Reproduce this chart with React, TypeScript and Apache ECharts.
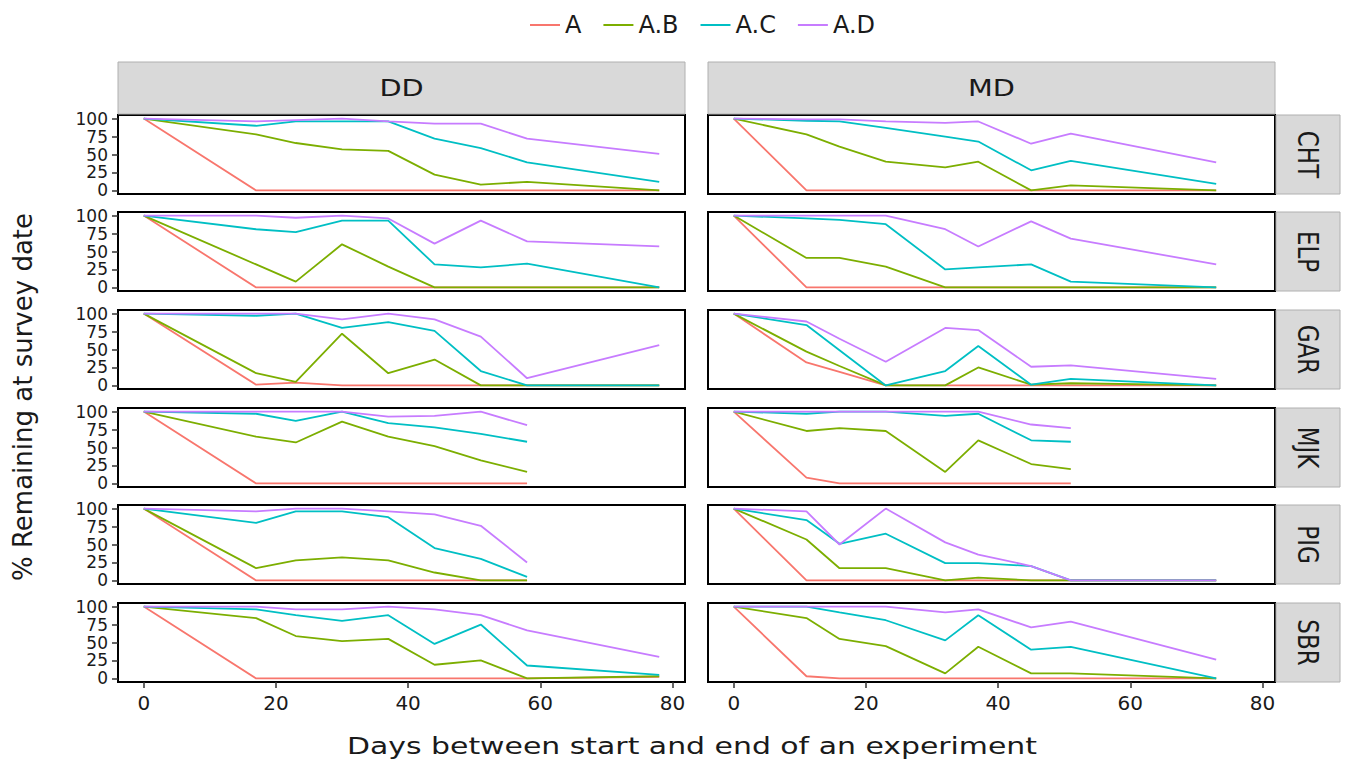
import React, { useEffect, useRef } from "react";
import * as echarts from "echarts";

const SERIES_NAMES = ["A", "A.B", "A.C", "A.D"];
const COLORS = ["#F8766D", "#7CAE00", "#00BFC4", "#C77CFF"];
const SITES = ["CHT", "ELP", "GAR", "MJK", "PIG", "SBR"];
const TREATMENTS = ["DD", "MD"];
const X_TICKS = [0, 20, 40, 60, 80];
const Y_TICKS = [0, 25, 50, 75, 100];

const DD_DAYS = [0, 17, 23, 30, 37, 44, 51, 58, 78];
const MD_DAYS = [0, 11, 16, 23, 32, 37, 45, 51, 73];

// each panel: [A, A.B, A.C, A.D]
const CHT_DD = [
  [100, 0, 0, 0, 0, 0, 0, 0, 0],
  [100, 78, 66, 57, 55, 22, 8, 12, 0],
  [100, 90, 96, 96, 96, 72, 59, 39, 12],
  [100, 96, 98, 100, 96, 93, 93, 72, 51],
];
const CHT_MD = [
  [100, 0, 0, 0, 0, 0, 0, 0, 0],
  [100, 78, 61, 40, 32, 40, 0, 7, 0],
  [100, 97, 96, 87, 75, 68, 28, 41, 9],
  [100, 99, 99, 96, 94, 96, 65, 79, 39],
];
const ELP_DD = [
  [100, 0, 0, 0, 0, 0, 0, 0, 0],
  [100, 32, 8, 60, 29, 0, 0, 0, 0],
  [100, 81, 77, 93, 93, 32, 28, 33, 0],
  [100, 100, 97, 100, 96, 61, 93, 64, 57],
];
const ELP_MD = [
  [100, 0, 0, 0, 0, 0, 0, 0, 0],
  [100, 41, 41, 29, 0, 0, 0, 0, 0],
  [100, 96, 94, 88, 25, 28, 32, 8, 0],
  [100, 100, 100, 100, 81, 57, 92, 68, 32],
];
const GAR_DD = [
  [100, 1, 4, 0, 0, 0, 0, 0, 0],
  [100, 17, 5, 72, 17, 36, 0, 0, 0],
  [100, 97, 100, 80, 88, 76, 20, 0, 0],
  [100, 100, 100, 92, 100, 92, 68, 10, 56],
];
const GAR_MD = [
  [100, 32, 19, 0, 0, 0, 0, 0, 0],
  [100, 47, 27, 0, 0, 25, 1, 3, 0],
  [100, 84, 49, 0, 20, 55, 1, 9, 0],
  [100, 89, 65, 33, 80, 77, 26, 28, 9],
];
const MJK_DD = [
  [100, 0, 0, 0, 0, 0, 0, 0, null],
  [100, 65, 57, 86, 65, 52, 32, 16, null],
  [100, 97, 87, 100, 84, 78, 69, 58, null],
  [100, 100, 100, 100, 93, 94, 100, 81, null],
];
const MJK_MD = [
  [100, 8, 0, 0, 0, 0, 0, 0, null],
  [100, 73, 77, 73, 16, 60, 27, 20, null],
  [100, 97, 100, 100, 94, 97, 60, 58, null],
  [100, 100, 100, 100, 100, 100, 82, 77, null],
];
const PIG_DD = [
  [100, 0, 0, 0, 0, 0, 0, 0, null],
  [100, 17, 28, 32, 28, 11, 0, 0, null],
  [100, 80, 96, 96, 88, 45, 30, 5, null],
  [100, 96, 100, 100, 96, 92, 76, 25, null],
];
const PIG_MD = [
  [100, 0, 0, 0, 0, 0, 0, 0, 0],
  [100, 57, 17, 17, 0, 4, 0, 0, 0],
  [100, 84, 51, 65, 24, 24, 20, 0, 0],
  [100, 96, 50, 100, 53, 36, 20, 0, 0],
];
const SBR_DD = [
  [100, 0, 0, 0, 0, 0, 0, 0, 2],
  [100, 84, 59, 52, 55, 19, 25, 0, 3],
  [100, 96, 88, 80, 88, 48, 75, 18, 5],
  [100, 100, 96, 96, 100, 96, 88, 67, 30],
];
const SBR_MD = [
  [100, 3, 0, 0, 0, 0, 0, 0, 0],
  [100, 84, 55, 45, 7, 44, 7, 7, 0],
  [100, 100, 92, 81, 53, 88, 40, 44, 0],
  [100, 100, 100, 100, 92, 96, 71, 79, 26],
];

const PANEL_DATA: Record<string, (number | null)[][][]> = {
  CHT: [CHT_DD, CHT_MD],
  ELP: [ELP_DD, ELP_MD],
  GAR: [GAR_DD, GAR_MD],
  MJK: [MJK_DD, MJK_MD],
  PIG: [PIG_DD, PIG_MD],
  SBR: [SBR_DD, SBR_MD],
};
const DAYS = [DD_DAYS, MD_DAYS];

const FONT = "DejaVu Sans";
const COL_LEFT = [118, 708];
const PANEL_W = 567;
const ROW_TOP = [115, 212, 310, 408, 505, 603];
const PANEL_H = 79;

export default function App() {
  const ref = useRef<HTMLDivElement>(null);
  useEffect(() => {
    if (!ref.current) return;
    const chart = echarts.init(ref.current, undefined, { renderer: "svg" });
    const grids: any[] = [];
    const xAxes: any[] = [];
    const yAxes: any[] = [];
    const series: any[] = [];
    const graphics: any[] = [];

    SITES.forEach((site, r) => {
      TREATMENTS.forEach((tr, c) => {
        const k = grids.length;
        const isBottom = r === SITES.length - 1;
        const isLeft = c === 0;
        grids.push({
          left: COL_LEFT[c],
          top: ROW_TOP[r],
          width: PANEL_W,
          height: PANEL_H,
          show: true,
          borderColor: "#000",
          borderWidth: 2,
          backgroundColor: "#fff",
        });
        xAxes.push({
          type: "value",
          gridIndex: k,
          position: "bottom",
          min: -3.9,
          max: 81.9,
          axisLine: { show: false, onZero: false },
          splitLine: { show: false },
          axisTick: {
            show: isBottom,
            customValues: X_TICKS,
            length: 6,
            lineStyle: { color: "#333", width: 1.5 },
          },
          axisLabel: {
            show: isBottom,
            customValues: X_TICKS,
            showMinLabel: true,
            showMaxLabel: true,
            fontSize: 20,
            fontFamily: FONT,
            color: "#1a1a1a",
            margin: 11,
          },
        });
        yAxes.push({
          type: "value",
          gridIndex: k,
          position: "left",
          min: -5,
          max: 105,
          axisLine: { show: false, onZero: false },
          splitLine: { show: false },
          axisTick: {
            show: isLeft,
            customValues: Y_TICKS,
            length: 6,
            lineStyle: { color: "#333", width: 1.5 },
          },
          axisLabel: {
            show: isLeft,
            customValues: Y_TICKS,
            showMinLabel: true,
            showMaxLabel: true,
            hideOverlap: false,
            fontSize: 17,
            lineHeight: 17,
            fontFamily: FONT,
            color: "#1a1a1a",
            margin: 10,
          },
        });
        const days = DAYS[c];
        PANEL_DATA[site][c].forEach((vals, s) => {
          series.push({
            type: "line",
            name: SERIES_NAMES[s],
            xAxisIndex: k,
            yAxisIndex: k,
            symbol: "none",
            showSymbol: false,
            lineStyle: { width: 1.8, color: COLORS[s] },
            itemStyle: { color: COLORS[s] },
            data: days
              .map((d, i) => [d, vals[i]])
              .filter((p) => p[1] !== null && p[1] !== undefined),
          });
        });
      });
      // right strip
      graphics.push({
        type: "rect",
        shape: { x: 1276, y: ROW_TOP[r], width: 64, height: PANEL_H },
        style: { fill: "#d9d9d9", stroke: "#b0b0b0", lineWidth: 1 },
      });
      graphics.push({
        type: "text",
        x: 1308,
        y: ROW_TOP[r] + PANEL_H / 2,
        rotation: -Math.PI / 2,
        scaleY: 1.25,
        style: {
          text: site,
          fontSize: 23,
          fontFamily: FONT,
          fill: "#1a1a1a",
          align: "center",
          verticalAlign: "middle",
          textAlign: "center",
          textVerticalAlign: "middle",
        },
      });
    });

    TREATMENTS.forEach((tr, c) => {
      graphics.push({
        type: "rect",
        shape: { x: COL_LEFT[c], y: 62, width: PANEL_W, height: 52 },
        style: { fill: "#d9d9d9", stroke: "#b0b0b0", lineWidth: 1 },
      });
      graphics.push({
        type: "text",
        x: COL_LEFT[c] + PANEL_W / 2,
        y: 88,
        scaleX: 1.25,
        style: {
          text: tr,
          fontSize: 23,
          fontFamily: FONT,
          fill: "#1a1a1a",
          align: "center",
          verticalAlign: "middle",
          textAlign: "center",
          textVerticalAlign: "middle",
        },
      });
    });

    graphics.push({
      type: "text",
      x: 692,
      y: 746,
      scaleX: 1.3,
      style: {
        text: "Days between start and end of an experiment",
        fontSize: 23,
        fontFamily: FONT,
        fill: "#1a1a1a",
        align: "center",
        verticalAlign: "middle",
        textAlign: "center",
        textVerticalAlign: "middle",
      },
    });
    graphics.push({
      type: "text",
      x: 23,
      y: 397,
      rotation: Math.PI / 2,
      style: {
        text: "% Remaining at survey date",
        fontSize: 26,
        fontFamily: FONT,
        fill: "#1a1a1a",
        align: "center",
        verticalAlign: "middle",
        textAlign: "center",
        textVerticalAlign: "middle",
      },
    });

    chart.setOption({
      animation: false,
      backgroundColor: "#fff",
      legend: {
        data: SERIES_NAMES,
        top: 8,
        left: 525,
        icon: "rect",
        itemWidth: 30,
        itemHeight: 2,
        itemGap: 22,
        textStyle: { fontSize: 24, fontFamily: FONT, color: "#1a1a1a" },
      },
      grid: grids,
      xAxis: xAxes,
      yAxis: yAxes,
      series,
      graphic: graphics,
    });
    return () => chart.dispose();
  }, []);
  return (
    <div
      ref={ref}
      style={{ position: "absolute", left: 0, top: 0, width: 1347, height: 761 }}
    />
  );
}
